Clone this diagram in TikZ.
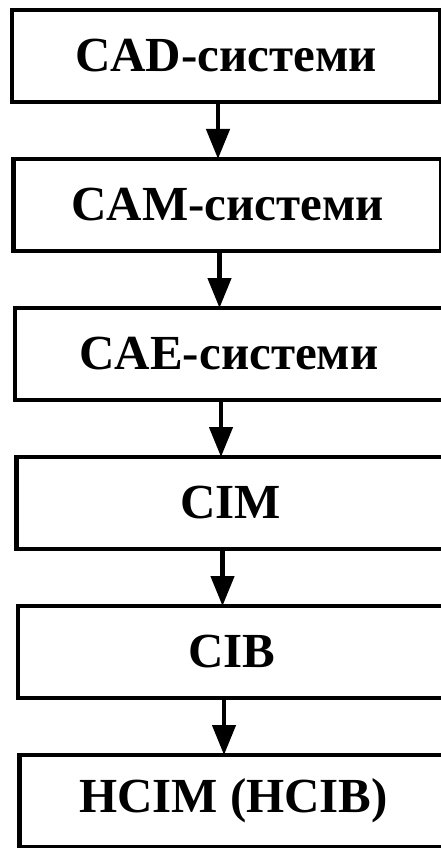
\documentclass[tikz,border=0pt]{standalone}
\usepackage{fontspec}
\setmainfont{Liberation Serif}
\usetikzlibrary{calc, arrows.meta}
\begin{document}
\begin{tikzpicture}

    \tikzstyle{block}=[draw=black, line width=4.5pt, rectangle, minimum width=428pt, minimum height=92pt, outer sep=0pt, inner sep=0pt, font=\fontsize{49}{55}\selectfont\bfseries];
    \tikzstyle{flow}=[-{Triangle[width=23pt, length=30pt]}, line width=4.5pt];

    \useasboundingbox (0,0) rectangle (441pt,-848pt);

    \node (1) at (226pt, -56pt) [block] {CAD-системи};
    \node (2) at ($(1)+(1.5pt,-149pt)$) [block] {CAM-системи};
    \node (3) at ($(2)+(1.5pt,-149pt)$) [block] {CAE-системи};
    \node (4) at ($(3)+(1.5pt,-149pt)$) [block] {CIM};
    \node (5) at ($(4)+(1.5pt,-149pt)$) [block] {CIB};
    \node (6) at ($(5)+(1.5pt,-149pt)$) [block] {HCIM (HCIB)};

    \draw ([xshift=-8pt]1.south) edge[flow] ([xshift=-8pt]1.south |- 2.north);
    \draw ([xshift=-8pt]2.south) edge[flow] ([xshift=-8pt]2.south |- 3.north);
    \draw ([xshift=-8pt]3.south) edge[flow] ([xshift=-8pt]3.south |- 4.north);
    \draw ([xshift=-8pt]4.south) edge[flow] ([xshift=-8pt]4.south |- 5.north);
    \draw ([xshift=-8pt]5.south) edge[flow] ([xshift=-8pt]5.south |- 6.north);

\end{tikzpicture}
\end{document}
